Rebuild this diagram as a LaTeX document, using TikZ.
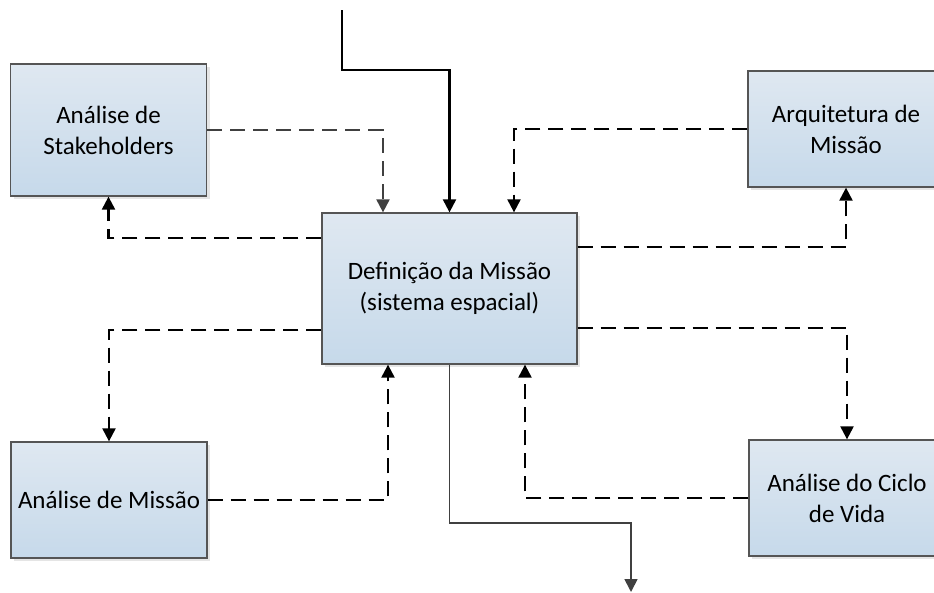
\documentclass[tikz,border=0pt]{standalone}
\usepackage{fontspec}
\setmainfont{Carlito}
\usetikzlibrary{arrows.meta,shadows}
\definecolor{boxtop}{RGB}{223,232,241}
\definecolor{boxbot}{RGB}{198,217,234}
\definecolor{boxline}{RGB}{85,85,85}
\definecolor{lightline}{RGB}{64,64,64}
\tikzset{
  box/.style={draw=boxline,line width=1.3pt,top color=boxtop,bottom color=boxbot,
    minimum width=196pt,minimum height=116pt,align=center,
    font=\fontsize{25}{31}\selectfont,
    drop shadow={shadow xshift=3pt,shadow yshift=-3pt,fill=black!10,opacity=1}},
  tip/.style={-{Triangle[length=13pt,width=13pt]}},
  flow/.style={tip,line width=2.2pt,dash pattern=on 15pt off 8pt},
  main/.style={tip,line width=2.2pt}
}
\begin{document}
\begin{tikzpicture}[x=1pt,y=-1pt]
      \useasboundingbox (0,0) rectangle (934,592);
      \draw
        (108.5,130) node[box,minimum height=132pt] (stake){Análise de\\Stakeholders}
        (846,129) node[box] (arq){Arquitetura de\\Missão}
        (449.5,288.5) node[box,minimum width=255pt,minimum height=151pt] (defn){Definição da Missão\\(sistema espacial)}
        (109,500) node[box] (mis){Análise de Missão}
        (847,498) node[box] (ciclo){Análise do Ciclo\\de Vida};
      \coordinate (in) at (342,10);
      \coordinate (out) at (631,592);
      \begin{scope}[flow]
        \draw[lightline] (stake.east) -| ([xshift=-66.5pt]defn.north);
        \draw (arq.west) -| ([xshift=64.5pt]defn.north);
        \draw ([yshift=50.5pt]defn.west) -| (stake.south);
        \draw ([yshift=41.5pt]defn.east) -| (arq.south);
        \draw ([yshift=-41.5pt]defn.west) -| (mis.north);
        \draw (mis.east) -| ([xshift=-61.5pt]defn.south);
        \draw ([yshift=-39.5pt]defn.east) -| (ciclo.north);
        \draw (ciclo.west) -| ([xshift=75.5pt]defn.south);
      \end{scope}
      \begin{scope}[main]
        \draw (in) -- (342,70) -| (defn.north);
        \draw[lightline,line width=1.7pt] (defn.south) |- (631,523) -- (out);
      \end{scope}
    \end{tikzpicture}
\end{document}
